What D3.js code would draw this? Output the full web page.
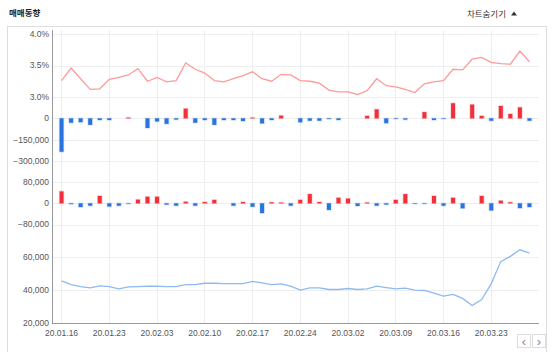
<!DOCTYPE html>
<html>
<head>
<meta charset="utf-8">
<script src="https://cdn.jsdelivr.net/npm/d3@7"></script>
<style>
  body { margin: 0; background: #fff; }
  svg { display: block; font-family: "Liberation Sans", Arial, sans-serif; }
</style>
</head>
<body>
<div id="chart"></div>
<script>
// trading days 2020.01.16 - 2020.03.27
const dates = [
  "20.01.16","20.01.17","20.01.20","20.01.21","20.01.22","20.01.23",
  "20.01.28","20.01.29","20.01.30","20.01.31",
  "20.02.03","20.02.04","20.02.05","20.02.06","20.02.07",
  "20.02.10","20.02.11","20.02.12","20.02.13","20.02.14",
  "20.02.17","20.02.18","20.02.19","20.02.20","20.02.21",
  "20.02.24","20.02.25","20.02.26","20.02.27","20.02.28",
  "20.03.02","20.03.03","20.03.04","20.03.05","20.03.06",
  "20.03.09","20.03.10","20.03.11","20.03.12","20.03.13",
  "20.03.16","20.03.17","20.03.18","20.03.19","20.03.20",
  "20.03.23","20.03.24","20.03.25","20.03.26","20.03.27"
];

// top line, percent
const ratio = [
  3.26,3.46,3.29,3.12,3.13,3.28,3.31,3.35,3.45,3.25,
  3.31,3.24,3.26,3.54,3.44,3.38,3.26,3.24,3.29,3.34,
  3.40,3.29,3.25,3.36,3.35,3.26,3.25,3.22,3.11,3.08,
  3.08,3.04,3.10,3.29,3.18,3.16,3.12,3.07,3.21,3.24,
  3.26,3.44,3.43,3.60,3.63,3.55,3.53,3.52,3.73,3.56
];

// first bar series
const netA = [
  -235000,-31000,-27000,-46000,-12000,-12000,0,5000,0,-68000,
  -22000,-39000,-9000,68000,-31000,-12000,-46000,-12000,-12000,-19000,
  5000,-36000,-12000,19000,0,-28000,-17000,-17000,-5000,-12000,
  0,0,17000,63000,-34000,-4000,-9000,0,44000,-12000,
  -4000,106000,0,97000,17000,-17000,87000,31000,77000,-17000
];

// second bar series
const netB = [
  45000,-3000,-14000,-9000,28000,-12000,-9000,-2000,14000,25000,
  25000,-5000,-9000,6000,-9000,5000,13000,0,-9000,5000,
  -13000,-37000,4000,3000,-9000,13000,35000,5000,-25000,21000,
  18000,-10000,3000,-9000,-5000,13000,35000,-2000,-2000,28000,
  -9000,21000,-19000,0,28000,-27000,10000,4000,-18000,-14000
];

// bottom line, price
const price = [
  45700,43400,42200,41400,42600,42200,40800,42000,42200,42400,
  42400,42200,42200,43400,43400,44200,44200,44000,44000,44000,
  45300,44400,43400,43800,42400,40000,41400,41400,40400,40400,
  41000,40400,40800,42400,41600,40800,41200,40000,39800,38200,
  36400,37400,35000,30700,34300,44000,57400,60600,64600,62600
];

const ratioTicks = [3.0, 3.5, 4.0];
const netATicks = [-300000, -150000, 0];
const netBTicks = [-80000, 0, 80000];
const priceTicks = [20000, 40000, 60000];
const dateTicks = dates.filter((d, i) => i % 5 === 0);

const W = 553, H = 352;
const left = 52, right = 539, bottom = 323;

const svg = d3.select("#chart").append("svg")
    .attr("width", W)
    .attr("height", H);

// header
svg.append("text")
    .attr("x", 9).attr("y", 16)
    .style("font-family", "'Noto Sans CJK KR', sans-serif")
    .style("font-size", "8.5px")
    .style("font-weight", "bold")
    .style("fill", "#222")
    .text("매매동향");

svg.append("text")
    .attr("x", 506).attr("y", 17)
    .attr("text-anchor", "end")
    .style("font-family", "'Noto Sans CJK KR', sans-serif")
    .style("font-size", "8.5px")
    .style("fill", "#333")
    .text("차트숨기기");

svg.append("path")
    .attr("d", "M511,15.5 L514,11.5 L517,15.5 Z")
    .attr("fill", "#333");

// panel box
svg.append("rect")
    .attr("x", 7.5).attr("y", 26.5)
    .attr("width", 539).attr("height", 330)
    .attr("fill", "none")
    .attr("stroke", "#ddd");

const x = d3.scalePoint()
    .domain(dates)
    .range([left, right])
    .padding(1);

const yRatio = d3.scaleLinear().domain([3.0, 4.0]).range([97, 34]);
const yNetA = d3.scaleLinear().domain([-300000, 150000]).range([161, 97]);
const yNetB = d3.scaleLinear().domain([-80000, 160000]).range([224.5, 161]);
const yPrice = d3.scaleLinear().domain([20000, 80000]).range([bottom, 224.5]);

const grid = svg.append("g").attr("stroke", "#eeeeee").attr("shape-rendering", "crispEdges");

// vertical grid
grid.selectAll(".vg")
    .data(dateTicks)
    .enter().append("line")
    .attr("x1", d => x(d)).attr("x2", d => x(d))
    .attr("y1", 30).attr("y2", bottom);

const fmtNum = d3.format(",");
const panels = [
  { scale: yRatio, ticks: ratioTicks, fmt: d => d.toFixed(1) + "%" },
  { scale: yNetA, ticks: netATicks, fmt: fmtNum },
  { scale: yNetB, ticks: netBTicks, fmt: fmtNum },
  { scale: yPrice, ticks: priceTicks, fmt: fmtNum }
];

const labels = svg.append("g")
    .style("font-size", "8.5px")
    .style("fill", "#555");

panels.forEach(p => {
  grid.selectAll(null)
      .data(p.ticks)
      .enter().append("line")
      .attr("x1", left).attr("x2", right)
      .attr("y1", d => Math.round(p.scale(d)) + 0.5)
      .attr("y2", d => Math.round(p.scale(d)) + 0.5);

  labels.selectAll(null)
      .data(p.ticks)
      .enter().append("text")
      .attr("x", 49)
      .attr("y", d => p.scale(d))
      .attr("dy", "0.35em")
      .attr("text-anchor", "end")
      .text(p.fmt);
});

// axes lines
svg.append("line")
    .attr("x1", left + 0.5).attr("x2", left + 0.5)
    .attr("y1", 30).attr("y2", bottom)
    .attr("stroke", "#999");
svg.append("line")
    .attr("x1", left).attr("x2", right)
    .attr("y1", bottom + 0.5).attr("y2", bottom + 0.5)
    .attr("stroke", "#999");

labels.selectAll(".dl")
    .data(dateTicks)
    .enter().append("text")
    .attr("x", d => x(d))
    .attr("y", 333)
    .attr("dy", "0.35em")
    .attr("text-anchor", "middle")
    .text(d => d);

// bars
function drawBars(values, y) {
  const bw = 4;
  svg.append("g").selectAll("rect")
      .data(values)
      .enter().append("rect")
      .attr("x", (d, i) => x(dates[i]) - bw / 2)
      .attr("y", d => y(Math.max(0, d)))
      .attr("width", bw)
      .attr("height", d => Math.abs(y(d) - y(0)))
      .attr("fill", d => d >= 0 ? "#f2303c" : "#2a74e0")
      .attr("stroke", d => d >= 0 ? "rgba(242,48,60,0.22)" : "rgba(42,116,224,0.2)")
      .attr("stroke-width", 1.5);
}
drawBars(netA, yNetA);
drawBars(netB, yNetB);

// lines
svg.append("path")
    .datum(ratio)
    .attr("fill", "none")
    .attr("stroke", "#ff9a9a")
    .attr("stroke-width", 1.3)
    .attr("d", d3.line().x((d, i) => x(dates[i])).y(d => yRatio(d)));

svg.append("path")
    .datum(price)
    .attr("fill", "none")
    .attr("stroke", "#8ebaf0")
    .attr("stroke-width", 1.3)
    .attr("d", d3.line().x((d, i) => x(dates[i])).y(d => yPrice(d)));

// nav buttons
const nav = svg.append("g");
[["‹", 517], ["›", 532]].forEach(([ch, bx]) => {
  nav.append("rect")
      .attr("x", bx + 0.5).attr("y", 334.5)
      .attr("width", 13).attr("height", 13)
      .attr("fill", "#fff")
      .attr("stroke", "#ddd");
  nav.append("text")
      .attr("x", bx + 7).attr("y", 341)
      .attr("dy", "0.35em")
      .attr("text-anchor", "middle")
      .style("font-size", "13px")
      .style("fill", "#888")
      .text(ch);
});
</script>
</body>
</html>
